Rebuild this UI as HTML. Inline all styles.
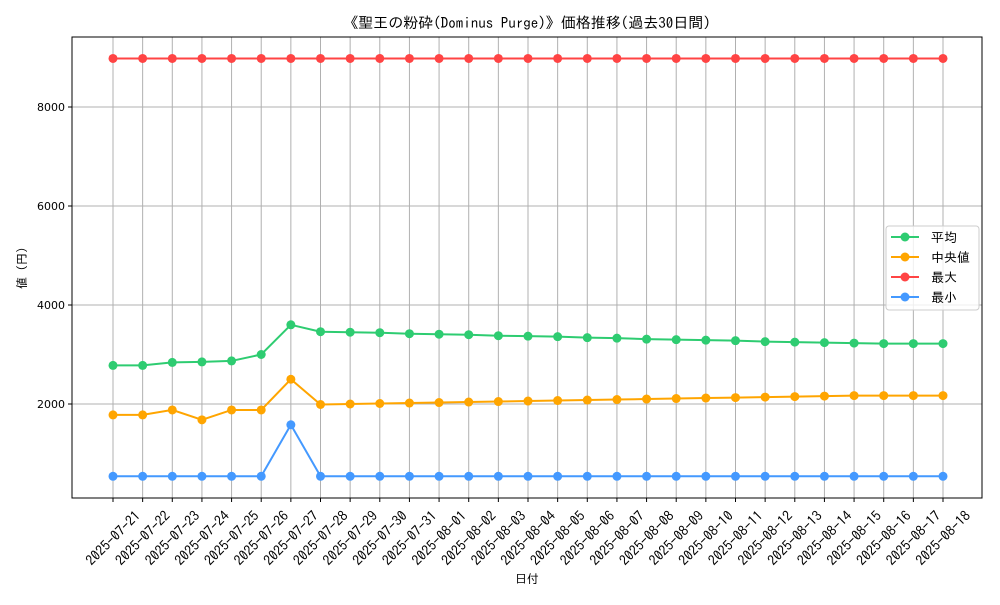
<!DOCTYPE html>
<html><head><meta charset="utf-8"><style>
body{margin:0;background:#fff}
svg text{font-family:"IPAGothic","Liberation Sans","Noto Sans CJK JP",sans-serif;}
</style></head><body>
<svg id="c" width="1000" height="600" xmlns="http://www.w3.org/2000/svg">
<rect width="1000" height="600" fill="#fff"/>
<text x="527" y="28" font-size="15" text-anchor="middle">《聖王の粉砕(Dominus Purge)》価格推移(過去30日間)</text>
<text x="527" y="583" font-size="12" text-anchor="middle">日付</text>
<text transform="translate(26,268) rotate(-90)" font-size="12" text-anchor="middle">値 (円)</text>
<g id="grid"></g><g id="series"></g><g id="axes"></g>
<g>
<rect x="886" y="226" width="93" height="84" rx="3" fill="#fff" fill-opacity="0.8" stroke="#ccc"/>
<g id="legend"></g>
</g>
</svg>
<script>
const dates=["2025-07-21","2025-07-22","2025-07-23","2025-07-24","2025-07-25","2025-07-26","2025-07-27","2025-07-28","2025-07-29","2025-07-30","2025-07-31","2025-08-01","2025-08-02","2025-08-03","2025-08-04","2025-08-05","2025-08-06","2025-08-07","2025-08-08","2025-08-09","2025-08-10","2025-08-11","2025-08-12","2025-08-13","2025-08-14","2025-08-15","2025-08-16","2025-08-17","2025-08-18"];
const avgValues=[2780,2780,2840,2850,2870,3000,3600,3460,3450,3440,3420,3410,3400,3380,3370,3360,3340,3330,3310,3300,3290,3280,3260,3250,3240,3230,3220,3220,3220];
const medianValues=[1780,1780,1880,1680,1880,1880,2500,1990,2000,2010,2020,2030,2040,2050,2060,2070,2080,2090,2100,2110,2120,2130,2140,2150,2160,2170,2170,2170,2170];
const maxValues=[8980,8980,8980,8980,8980,8980,8980,8980,8980,8980,8980,8980,8980,8980,8980,8980,8980,8980,8980,8980,8980,8980,8980,8980,8980,8980,8980,8980,8980];
const minValues=[540,540,540,540,540,540,1580,540,540,540,540,540,540,540,540,540,540,540,540,540,540,540,540,540,540,540,540,540,540];
const yTicks=[2000,4000,6000,8000];
const seriesNames=["平均","中央値","最大","最小"];
const NS="http://www.w3.org/2000/svg";
const L=72,R=982,T=37,B=498;
const xS=i=>113+i*(943-113)/(dates.length-1);
const yS=v=>503-v*99/2000;
function mk(tag,attrs,parent){const e=document.createElementNS(NS,tag);for(const k in attrs)e.setAttribute(k,attrs[k]);parent.appendChild(e);return e;}
const grid=document.getElementById('grid'),axes=document.getElementById('axes'),ser=document.getElementById('series'),leg=document.getElementById('legend');
dates.forEach((d,i)=>{
 const g=mk('line',{x1:xS(i),x2:xS(i),y1:T,y2:B,stroke:'#b0b0b0','stroke-width':1},grid);
 
 
 const tk=mk('line',{x1:xS(i),x2:xS(i),y1:B,y2:B+4,stroke:'#000'},axes);
 
 
 const t=mk('text',{transform:`translate(${xS(i)},${B+40}) rotate(-45)`,'text-anchor':'middle','dominant-baseline':'central','font-size':14},axes);
 t.textContent=d;
 
 
});
yTicks.forEach(v=>{
 const g=mk('line',{x1:L,x2:R,y1:yS(v),y2:yS(v),stroke:'#b0b0b0','stroke-width':1},grid);
 
 
 const tk=mk('line',{x1:L-4,x2:L,y1:yS(v),y2:yS(v),stroke:'#000'},axes);
 
 
 const t=mk('text',{x:L-7,y:yS(v)+4,'text-anchor':'end','font-size':12,style:'font-family:"DejaVu Sans",sans-serif;font-size:11px'},axes);
 t.textContent=v;
 
 
});
const frame=mk('rect',{x:L,y:T,width:R-L,height:B-T,fill:'none',stroke:'#000','stroke-width':1},axes);


const all=[[avgValues,'#2ecc71','average'],[medianValues,'#ffa500','median'],[maxValues,'#ff4444','max'],[minValues,'#4499ff','min']];
all.forEach(([vals,col,nm],si)=>{
 const g=mk('g',{},ser);
 
 
 const p=mk('polyline',{points:vals.map((v,i)=>xS(i)+','+yS(v)).join(' '),fill:'none',stroke:col,'stroke-width':2},g);
 
 
 vals.forEach((v,i)=>{
  const c=mk('circle',{cx:xS(i),cy:yS(v),r:4.5,fill:col},g);
  
  
 });
 const ly=237+si*20;
 const lg=mk('g',{},leg);
 
 
 mk('line',{x1:891,x2:919,y1:ly,y2:ly,stroke:col,'stroke-width':2},lg);
 mk('circle',{cx:905,cy:ly,r:4.5,fill:col},lg);
 const t=mk('text',{x:931,y:ly+5,'font-size':13},lg);
 t.textContent=(nm==='median'?' ':'')+seriesNames[si];
});
</script>
</body></html>
